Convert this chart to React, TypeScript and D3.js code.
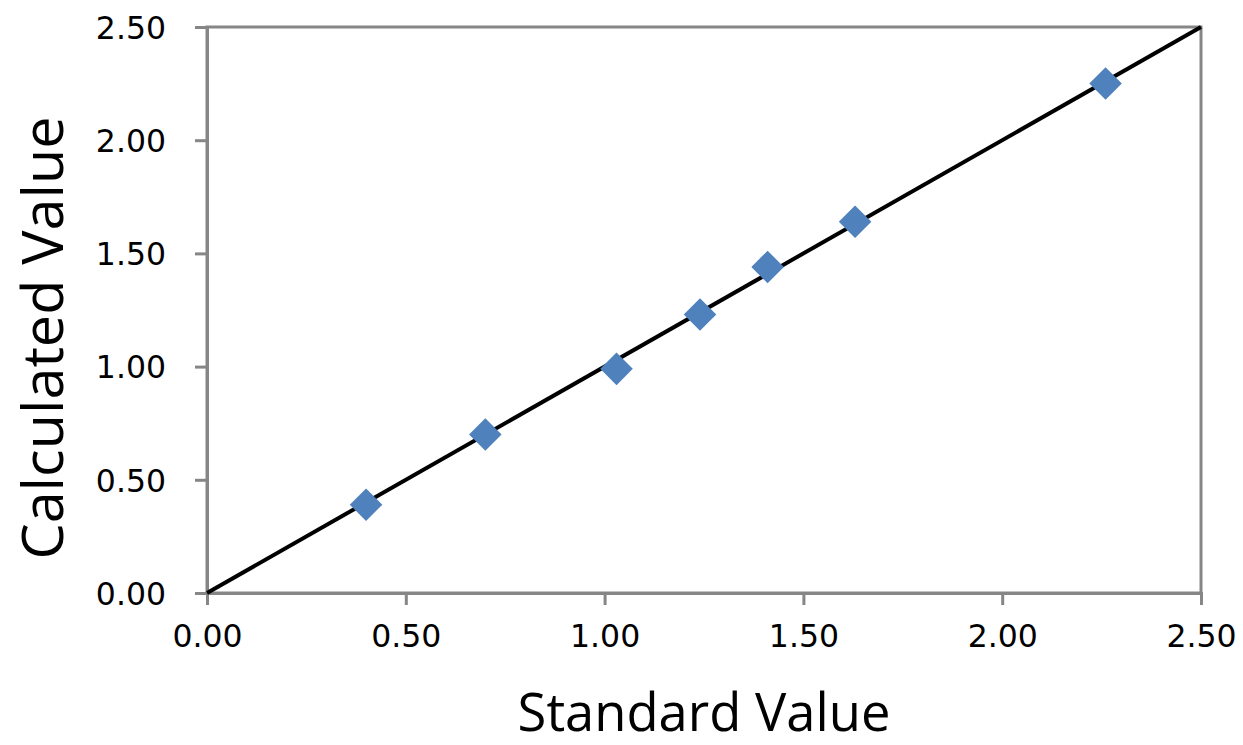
import { type FC, useEffect, useRef } from 'react';
import * as d3 from 'd3';

const standardValues = [0.4, 0.7, 1.03, 1.24, 1.41, 1.63, 2.26];
const calculatedValues = [0.39, 0.7, 0.99, 1.23, 1.44, 1.64, 2.25];
const identityLine = [0, 2.5];
const tickValues = [0, 0.5, 1, 1.5, 2, 2.5];

const WIDTH = 1243;
const HEIGHT = 745;
const margin = { top: 27, right: 42, bottom: 152, left: 207 };

const AXIS_GRAY = '#868686';
const MARKER_BLUE = '#4F81BD';

const ScatterChart: FC = () => {
  const svgRef = useRef<SVGSVGElement>(null);

  useEffect(() => {
    const svg = d3.select(svgRef.current);
    svg.selectAll('*').remove();

    const x = d3.scaleLinear().domain([0, 2.5]).range([margin.left, WIDTH - margin.right]);
    const y = d3.scaleLinear().domain([0, 2.5]).range([HEIGHT - margin.bottom, margin.top]);

    // plot frame
    svg
      .append('rect')
      .attr('x', x(0))
      .attr('y', y(2.5))
      .attr('width', x(2.5) - x(0))
      .attr('height', y(0) - y(2.5))
      .attr('fill', 'none')
      .attr('stroke', AXIS_GRAY)
      .attr('stroke-width', 3);

    const xAxis = svg
      .append('g')
      .attr('transform', `translate(0,${y(0)})`)
      .call(
        d3
          .axisBottom(x)
          .tickValues(tickValues)
          .tickSize(12)
          .tickPadding(20)
          .tickFormat((d) => d3.format('.2f')(d as number)),
      );

    const yAxis = svg
      .append('g')
      .attr('transform', `translate(${x(0)},0)`)
      .call(
        d3
          .axisLeft(y)
          .tickValues(tickValues)
          .tickSize(12)
          .tickPadding(29)
          .tickFormat((d) => d3.format('.2f')(d as number)),
      );

    [xAxis, yAxis].forEach((ax) => {
      ax.select('.domain').attr('stroke', AXIS_GRAY).attr('stroke-width', 3);
      ax.selectAll('.tick line').attr('stroke', AXIS_GRAY).attr('stroke-width', 3);
      ax.selectAll('.tick text')
        .attr('fill', '#000')
        .attr('font-family', 'Verdana, "DejaVu Sans", sans-serif')
        .attr('font-size', 31.5);
    });
    yAxis.selectAll('.tick text').attr('dy', '0.36em');

    // y = x reference line
    const line = d3
      .line<number>()
      .x((d) => x(d))
      .y((d) => y(d));
    svg
      .append('path')
      .datum(identityLine)
      .attr('d', line)
      .attr('fill', 'none')
      .attr('stroke', '#000')
      .attr('stroke-width', 4);

    const diamond = d3.symbol().type(d3.symbolSquare).size(23 * 23);
    svg
      .append('g')
      .selectAll('path')
      .data(standardValues.map((s, i) => [s, calculatedValues[i]] as [number, number]))
      .enter()
      .append('path')
      .attr('d', diamond)
      .attr('transform', (d) => `translate(${x(d[0])},${y(d[1])}) rotate(45)`)
      .attr('fill', MARKER_BLUE);

    svg
      .append('text')
      .attr('x', (x(0) + x(2.5)) / 2)
      .attr('y', 731)
      .attr('text-anchor', 'middle')
      .attr('font-family', '"Open Sans", sans-serif')
      .attr('font-size', 52.5)
      .text('Standard Value');

    svg
      .append('text')
      .attr('transform', `translate(63,338) rotate(-90)`)
      .attr('text-anchor', 'middle')
      .attr('font-family', '"Open Sans", sans-serif')
      .attr('font-size', 57.5)
      .text('Calculated Value');
  }, []);

  return (
    <svg
      ref={svgRef}
      width={WIDTH}
      height={HEIGHT}
      viewBox={`0 0 ${WIDTH} ${HEIGHT}`}
      style={{ position: 'absolute', left: 0, top: 0, background: '#fff' }}
    />
  );
};

export default function App() {
  return <ScatterChart />;
}
